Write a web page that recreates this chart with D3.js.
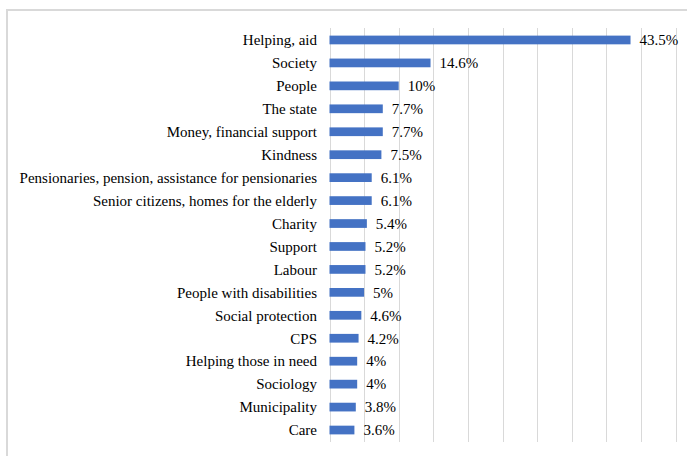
<!DOCTYPE html>
<html>
<head>
<meta charset="utf-8">
<script src="https://cdn.jsdelivr.net/npm/d3@7"></script>
<style>
  html, body { margin: 0; padding: 0; background: #fff; }
  svg { display: block; }
</style>
</head>
<body>
<svg id="chart" width="687" height="456" style="font-family: 'Liberation Serif', serif;"></svg>
<script>
const categories = [
  "Helping, aid",
  "Society",
  "People",
  "The state",
  "Money, financial support",
  "Kindness",
  "Pensionaries, pension, assistance for pensionaries",
  "Senior citizens, homes for the elderly",
  "Charity",
  "Support",
  "Labour",
  "People with disabilities",
  "Social protection",
  "CPS",
  "Helping those in need",
  "Sociology",
  "Municipality",
  "Care"
];
const values = [43.5, 14.6, 10, 7.7, 7.7, 7.5, 6.1, 6.1, 5.4, 5.2, 5.2, 5, 4.6, 4.2, 4, 4, 3.8, 3.6];
const valueLabels = ["43.5%", "14.6%", "10%", "7.7%", "7.7%", "7.5%", "6.1%", "6.1%", "5.4%", "5.2%", "5.2%", "5%", "4.6%", "4.2%", "4%", "4%", "3.8%", "3.6%"];
const gridTicks = [0, 5, 10, 15, 20, 25, 30, 35, 40, 45, 50];

const svg = d3.select("#chart");

// frame
svg.append("rect")
  .attr("x", 7).attr("y", 10)
  .attr("width", 720).attr("height", 480)
  .attr("fill", "none")
  .attr("stroke", "#d9d9d9")
  .attr("stroke-width", 2);

const x = d3.scaleLinear().domain([0, 50]).range([329.5, 675.5]);
const y = d3.scaleBand().domain(categories).range([28.5, 441.5]).paddingInner(0.62).paddingOuter(0.31);

// gridlines
svg.append("g").selectAll("line")
  .data(gridTicks)
  .join("line")
  .attr("x1", d => Math.round(x(d)) + 0.5)
  .attr("x2", d => Math.round(x(d)) + 0.5)
  .attr("y1", 28)
  .attr("y2", 442)
  .attr("stroke", "#d9d9d9")
  .attr("stroke-width", 1);

// bars
svg.append("g").selectAll("rect")
  .data(values)
  .join("rect")
  .attr("x", x(0))
  .attr("y", (d, i) => y(categories[i]))
  .attr("width", d => x(d) - x(0))
  .attr("height", y.bandwidth())
  .attr("fill", "#4472c4");

// category labels
svg.append("g").selectAll("text")
  .data(categories)
  .join("text")
  .attr("x", 317)
  .attr("y", d => y(d) + y.bandwidth() / 2)
  .attr("dy", "0.35em")
  .attr("text-anchor", "end")
  .attr("font-size", 15)
  .attr("font-family", "Liberation Serif, serif")
  .style("font-family", '"Liberation Serif", serif')
  .attr("fill", "#000")
  .text(d => d);

// value labels
svg.append("g").selectAll("text")
  .data(values)
  .join("text")
  .attr("x", d => x(d) + 9)
  .attr("y", (d, i) => y(categories[i]) + y.bandwidth() / 2)
  .attr("dy", "0.35em")
  .attr("font-size", 15)
  .attr("font-family", "Liberation Serif, serif")
  .style("font-family", '"Liberation Serif", serif')
  .attr("fill", "#000")
  .text((d, i) => valueLabels[i]);
</script>
</body>
</html>
